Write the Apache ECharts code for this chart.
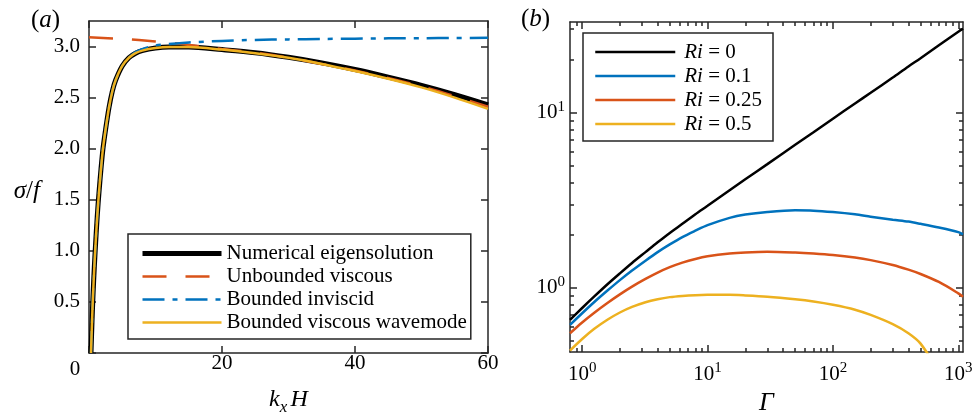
<!DOCTYPE html>
<html>
<head>
<meta charset="utf-8">
<script src="https://cdn.jsdelivr.net/npm/echarts@6/dist/echarts.min.js"></script>
<style>
  html, body { margin: 0; padding: 0; background: #fff; }
  #chart { width: 975px; height: 417px; }
</style>
</head>
<body>
<div id="chart"></div>
<script>
// ---- panel (a): growth rate against k_x H
var kx = [0.3, 0.45, 0.6, 0.8, 1.0, 1.25, 1.5, 1.8, 2.1, 2.5, 3, 3.5, 4, 5, 6, 7, 8, 10, 12, 15, 20, 25, 30, 35, 40, 45, 50, 55, 60];
var sigmaNumerical = [0, 0.30, 0.56, 0.84, 1.08, 1.35, 1.57, 1.80, 2.00, 2.19, 2.40, 2.56, 2.67, 2.81, 2.89, 2.935, 2.96, 2.985, 2.995, 2.995, 2.97, 2.94, 2.895, 2.84, 2.775, 2.70, 2.62, 2.53, 2.43];
var sigmaInviscid = [0, 0.30, 0.56, 0.84, 1.08, 1.35, 1.57, 1.80, 2.00, 2.19, 2.40, 2.56, 2.67, 2.81, 2.89, 2.945, 2.975, 3.01, 3.025, 3.04, 3.055, 3.065, 3.07, 3.074, 3.077, 3.08, 3.082, 3.084, 3.085];
var sigmaWavemode = [0, 0.30, 0.56, 0.84, 1.08, 1.35, 1.57, 1.80, 2.00, 2.19, 2.40, 2.56, 2.67, 2.81, 2.89, 2.935, 2.96, 2.985, 2.995, 2.995, 2.97, 2.935, 2.89, 2.83, 2.76, 2.685, 2.60, 2.50, 2.39];
var kxUnbounded = [0, 5, 10, 14, 17, 20, 25, 30, 40, 50, 60];
var sigmaUnbounded = [3.09, 3.075, 3.05, 3.025, 3.0, 2.975, 2.94, 2.89, 2.765, 2.61, 2.41];
var kxTicks = [0, 20, 40, 60];
var sigmaTicks = [0, 0.5, 1, 1.5, 2, 2.5, 3];

// ---- panel (b): growth rate against Gamma, log-log
var gamma = [0.8, 1, 1.25, 1.6, 2, 2.5, 3.2, 4, 5, 6.3, 8, 10, 15, 20, 30, 50, 70, 100, 150, 200, 300, 400, 500, 700, 1000, 1090];
var ri0 = [0.656, 0.767, 0.893, 1.052, 1.21, 1.387, 1.60, 1.82, 2.06, 2.32, 2.63, 2.94, 3.61, 4.17, 5.09, 6.56, 7.74, 9.25, 11.3, 13.0, 15.9, 18.4, 20.5, 24.3, 29.0, 30.2];
var ri01 = [0.615, 0.716, 0.83, 0.968, 1.107, 1.256, 1.43, 1.60, 1.77, 1.95, 2.12, 2.28, 2.51, 2.62, 2.71, 2.77, 2.76, 2.71, 2.63, 2.55, 2.45, 2.39, 2.32, 2.21, 2.08, 2.02];
var ri025 = [0.55, 0.634, 0.721, 0.822, 0.918, 1.016, 1.124, 1.222, 1.312, 1.393, 1.462, 1.513, 1.57, 1.592, 1.606, 1.59, 1.57, 1.54, 1.49, 1.44, 1.35, 1.27, 1.20, 1.08, 0.93, 0.89];
var ri05 = [0.438, 0.51, 0.583, 0.659, 0.723, 0.778, 0.828, 0.861, 0.885, 0.899, 0.908, 0.912, 0.912, 0.905, 0.89, 0.86, 0.835, 0.80, 0.75, 0.70, 0.62, 0.55, 0.48, 0.33, null, null];
var gammaMajor = [1, 10, 100, 1000];
var gammaMinor = [0.9, 2, 3, 4, 5, 6, 7, 8, 9, 20, 30, 40, 50, 60, 70, 80, 90, 200, 300, 400, 500, 600, 700, 800, 900];
var sigmaMajor = [1, 10];
var sigmaMinor = [0.5, 0.6, 0.7, 0.8, 0.9, 2, 3, 4, 5, 6, 7, 8, 9, 20, 30];

var serif = 'Liberation Serif';
var ink = '#262626';

function pairs(xs, ys) {
    return xs.map(function (x, i) { return [x, ys[i]]; });
}

function tick(values, len) {
    return { show: true, inside: true, length: len, customValues: values, lineStyle: { color: ink, width: 1.5 } };
}
var line = { show: true, onZero: false, lineStyle: { color: ink, width: 1.5 } };
var noLine = { show: false, onZero: false };
var noLabel = { show: false };

var supLabel = {
    fontFamily: serif, fontSize: 21, color: '#000',
    rich: {
        b: { fontFamily: serif, fontSize: 21, color: '#000' },
        s: { fontFamily: serif, fontSize: 15, color: '#000', padding: [0, 0, 12, 0] }
    },
    formatter: function (v) { return '{b|10}{s|' + Math.round(Math.log10(v)) + '}'; }
};

var panelTitle = {
    fontFamily: serif, fontSize: 25, fontWeight: 'normal', color: '#000',
    rich: { i: { fontFamily: serif, fontSize: 25, fontStyle: 'italic', color: '#000' } }
};

var chart = echarts.init(document.getElementById('chart'));

chart.setOption({
    backgroundColor: '#fff',
    animation: false,
    title: [
        { text: '({i|a})', left: 26, top: 3, textStyle: panelTitle },
        { text: '({i|b})', left: 516, top: 2, textStyle: panelTitle }
    ],
    grid: [
        { left: 89, top: 21, right: 487, bottom: 64, outerBoundsMode: 'none' },
        { left: 570, top: 22, right: 12, bottom: 65, outerBoundsMode: 'none' }
    ],
    legend: [
        {
            data: [
                { name: 'Numerical eigensolution', lineStyle: { width: 5 } },
                'Unbounded viscous', 'Bounded inviscid', 'Bounded viscous wavemode'
            ],
            orient: 'vertical', left: 128, top: 234,
            padding: [8, 4, 5, 12], itemGap: 0, itemWidth: 79, itemHeight: 23,
            borderColor: ink, borderWidth: 1.5, backgroundColor: '#fff',
            itemStyle: { opacity: 0 }, lineStyle: { width: 2.5 },
            textStyle: { fontFamily: serif, fontSize: 21, color: '#000', lineHeight: 23 }
        },
        {
            data: ['Ri = 0', 'Ri = 0.1', 'Ri = 0.25', 'Ri = 0.5'],
            orient: 'vertical', left: 583, top: 33,
            padding: [7, 11, 5, 11], itemGap: 0, itemWidth: 80, itemHeight: 24,
            borderColor: ink, borderWidth: 1.5, backgroundColor: '#fff',
            itemStyle: { opacity: 0 }, lineStyle: { width: 2.5 },
            formatter: function (name) { return '{i|Ri}' + name.slice(2); },
            textStyle: {
                fontFamily: serif, fontSize: 21, color: '#000', lineHeight: 24, padding: [0, 0, 0, 4],
                rich: { i: { fontFamily: serif, fontSize: 21, fontStyle: 'italic', color: '#000' } }
            }
        }
    ],
    xAxis: [
        {
            gridIndex: 0, type: 'value', position: 'bottom', min: 0, max: 60,
            axisLine: line, axisTick: tick(kxTicks, 7), splitLine: { show: false },
            axisLabel: {
                customValues: kxTicks, margin: 0, fontFamily: serif, fontSize: 21, color: '#000',
                rich: { o: { fontFamily: serif, fontSize: 21, color: '#000', padding: [6, 28, 0, 0] } },
                formatter: function (v) { return v === 0 ? '{o|0}' : String(v); }
            },
            name: '{i|k}{s|x} {i|H}', nameLocation: 'middle', nameGap: 30,
            nameTextStyle: {
                rich: {
                    i: { fontFamily: serif, fontSize: 24, fontStyle: 'italic', color: '#000' },
                    s: { fontFamily: serif, fontSize: 17, fontStyle: 'italic', color: '#000', padding: [16, 0, 0, 0] }
                }
            }
        },
        {
            gridIndex: 0, type: 'value', position: 'top', min: 0, max: 60,
            axisLine: line, axisTick: tick(kxTicks, 7), axisLabel: noLabel, splitLine: { show: false }
        },
        {
            gridIndex: 1, type: 'log', position: 'bottom', min: 0.8, max: 1090,
            axisLine: line, axisTick: tick(gammaMajor, 7), splitLine: { show: false },
            axisLabel: Object.assign({ customValues: gammaMajor, margin: 9 }, supLabel),
            name: 'Γ', nameLocation: 'middle', nameGap: 36,
            nameTextStyle: { fontFamily: serif, fontSize: 26, fontStyle: 'italic', color: '#000' }
        },
        {
            gridIndex: 1, type: 'log', position: 'bottom', min: 0.8, max: 1090,
            axisLine: noLine, axisTick: tick(gammaMinor, 4), axisLabel: noLabel, splitLine: { show: false }
        },
        {
            gridIndex: 1, type: 'log', position: 'top', min: 0.8, max: 1090,
            axisLine: line, axisTick: tick(gammaMajor, 7), axisLabel: noLabel, splitLine: { show: false }
        },
        {
            gridIndex: 1, type: 'log', position: 'top', min: 0.8, max: 1090,
            axisLine: noLine, axisTick: tick(gammaMinor, 4), axisLabel: noLabel, splitLine: { show: false }
        }
    ],
    yAxis: [
        {
            gridIndex: 0, type: 'value', position: 'left', min: 0, max: 3.25,
            axisLine: line, axisTick: tick(sigmaTicks, 7), splitLine: { show: false },
            axisLabel: {
                customValues: sigmaTicks.slice(1), margin: 9, fontFamily: serif, fontSize: 21, color: '#000',
                formatter: function (v) { return v.toFixed(1); }
            },
            name: '{i|σ}/{i|f}', nameLocation: 'middle', nameRotate: 0, nameGap: 49,
            nameTextStyle: {
                fontFamily: serif, fontSize: 25, color: '#000', padding: [8, 0, 0, 0],
                rich: { i: { fontFamily: serif, fontSize: 25, fontStyle: 'italic', color: '#000' } }
            }
        },
        {
            gridIndex: 0, type: 'value', position: 'right', min: 0, max: 3.25,
            axisLine: line, axisTick: tick(sigmaTicks, 7), axisLabel: noLabel, splitLine: { show: false }
        },
        {
            gridIndex: 1, type: 'log', position: 'left', min: 0.43, max: 33,
            axisLine: line, axisTick: tick(sigmaMajor, 7), splitLine: { show: false },
            axisLabel: Object.assign({ customValues: sigmaMajor, margin: 5 }, supLabel)
        },
        {
            gridIndex: 1, type: 'log', position: 'left', min: 0.43, max: 33,
            axisLine: noLine, axisTick: tick(sigmaMinor, 4), axisLabel: noLabel, splitLine: { show: false }
        },
        {
            gridIndex: 1, type: 'log', position: 'right', min: 0.43, max: 33,
            axisLine: line, axisTick: tick(sigmaMajor, 7), axisLabel: noLabel, splitLine: { show: false }
        },
        {
            gridIndex: 1, type: 'log', position: 'right', min: 0.43, max: 33,
            axisLine: noLine, axisTick: tick(sigmaMinor, 4), axisLabel: noLabel, splitLine: { show: false }
        }
    ],
    series: [
        {
            name: 'Numerical eigensolution', type: 'line', xAxisIndex: 0, yAxisIndex: 0,
            data: pairs(kx, sigmaNumerical), smooth: 0.3, symbol: 'none',
            lineStyle: { color: '#000', width: 5 }, itemStyle: { color: '#000' }
        },
        {
            name: 'Unbounded viscous', type: 'line', xAxisIndex: 0, yAxisIndex: 0,
            data: pairs(kxUnbounded, sigmaUnbounded), smooth: 0.3, symbol: 'none',
            lineStyle: { color: '#D95319', width: 2.5, type: [24, 19] }, itemStyle: { color: '#D95319' }
        },
        {
            name: 'Bounded inviscid', type: 'line', xAxisIndex: 0, yAxisIndex: 0,
            data: pairs(kx, sigmaInviscid), smooth: 0.3, symbol: 'none',
            lineStyle: { color: '#0072BD', width: 2.5, type: [22, 8, 5, 8] }, itemStyle: { color: '#0072BD' }
        },
        {
            name: 'Bounded viscous wavemode', type: 'line', xAxisIndex: 0, yAxisIndex: 0,
            data: pairs(kx, sigmaWavemode), smooth: 0.3, symbol: 'none',
            lineStyle: { color: '#EDB120', width: 2.5 }, itemStyle: { color: '#EDB120' }
        },
        {
            name: 'Ri = 0', type: 'line', xAxisIndex: 2, yAxisIndex: 2,
            data: pairs(gamma, ri0), smooth: 0.3, symbol: 'none',
            lineStyle: { color: '#000', width: 2.5 }, itemStyle: { color: '#000' }
        },
        {
            name: 'Ri = 0.1', type: 'line', xAxisIndex: 2, yAxisIndex: 2,
            data: pairs(gamma, ri01), smooth: 0.3, symbol: 'none',
            lineStyle: { color: '#0072BD', width: 2.5 }, itemStyle: { color: '#0072BD' }
        },
        {
            name: 'Ri = 0.25', type: 'line', xAxisIndex: 2, yAxisIndex: 2,
            data: pairs(gamma, ri025), smooth: 0.3, symbol: 'none',
            lineStyle: { color: '#D95319', width: 2.5 }, itemStyle: { color: '#D95319' }
        },
        {
            name: 'Ri = 0.5', type: 'line', xAxisIndex: 2, yAxisIndex: 2,
            data: pairs(gamma, ri05), smooth: 0.3, symbol: 'none', connectNulls: false,
            lineStyle: { color: '#EDB120', width: 2.5 }, itemStyle: { color: '#EDB120' }
        }
    ]
});
</script>
</body>
</html>
